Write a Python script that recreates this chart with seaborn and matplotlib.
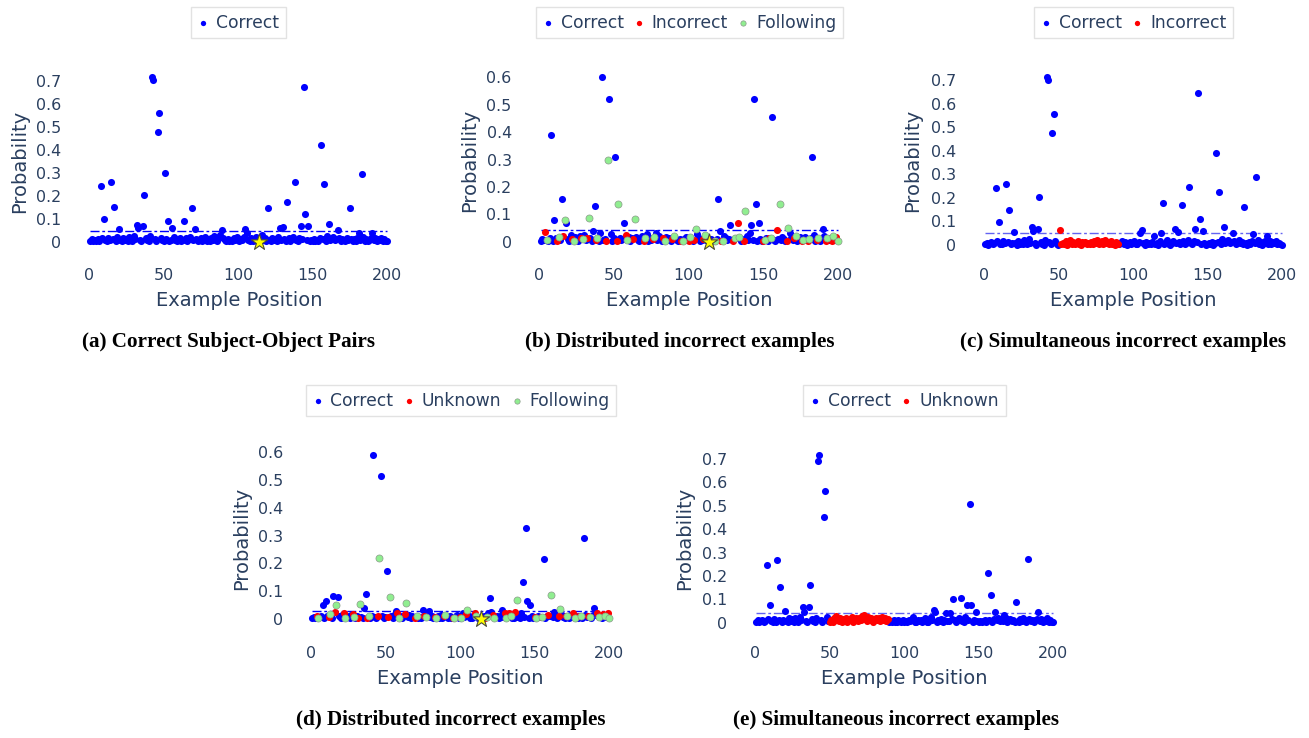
import numpy as np
import pandas as pd
import matplotlib
matplotlib.use("Agg")
import matplotlib.pyplot as plt
import seaborn as sns

# ---------------- data ----------------
positions = np.arange(1, 201)

a_values = [
 0.004, 0.010, 0.002, 0.006, 0.001, 0.012, 0.005, 0.242, 0.014, 0.097,
 0.008, 0.003, 0.016, 0.006, 0.260, 0.011, 0.150, 0.004, 0.020, 0.055,
 0.009, 0.002, 0.018, 0.007, 0.013, 0.003, 0.022, 0.010, 0.004, 0.026,
 0.012, 0.074, 0.060, 0.008, 0.003, 0.070, 0.203, 0.015, 0.006, 0.002,
 0.024, 0.715, 0.703, 0.011, 0.004, 0.476, 0.558, 0.018, 0.006, 0.001,
 0.299, 0.013, 0.088, 0.005, 0.009, 0.060, 0.020, 0.007, 0.002, 0.011,
 0.016, 0.004, 0.008, 0.090, 0.015, 0.003, 0.010, 0.019, 0.145, 0.006,
 0.055, 0.012, 0.002, 0.007, 0.017, 0.004, 0.010, 0.021, 0.005, 0.013,
 0.002, 0.016, 0.008, 0.025, 0.011, 0.003, 0.019, 0.030, 0.050, 0.014,
 0.006, 0.002, 0.012, 0.004, 0.009, 0.001, 0.015, 0.007, 0.020, 0.010,
 0.003, 0.013, 0.006, 0.022, 0.055, 0.040, 0.008, 0.002, 0.014, 0.005,
 0.011, 0.019, 0.003, 0.000, 0.010, 0.030, 0.006, 0.015, 0.004, 0.148,
 0.009, 0.002, 0.017, 0.008, 0.012, 0.003, 0.021, 0.060, 0.007, 0.065,
 0.013, 0.005, 0.174, 0.016, 0.004, 0.010, 0.020, 0.260, 0.008, 0.003,
 0.018, 0.070, 0.011, 0.674, 0.122, 0.006, 0.070, 0.002, 0.009, 0.004,
 0.012, 0.001, 0.007, 0.003, 0.015, 0.420, 0.010, 0.252, 0.005, 0.024,
 0.078, 0.008, 0.014, 0.019, 0.006, 0.011, 0.050, 0.016, 0.004, 0.013,
 0.009, 0.002, 0.017, 0.006, 0.148, 0.012, 0.003, 0.010, 0.005, 0.015,
 0.040, 0.007, 0.294, 0.022, 0.004, 0.012, 0.001, 0.009, 0.016, 0.040,
 0.006, 0.018, 0.003, 0.011, 0.008, 0.014, 0.002, 0.010, 0.005, 0.001,
]

# distributed layout: positions of incorrect/unknown and following examples (b, d)
dist_incorrect_pos = [4, 12, 16, 22, 28, 32, 38, 45, 52, 58, 63, 70, 76, 83, 89, 95, 100,
                      104, 110, 117, 122, 130, 133, 137, 150, 154, 159, 166, 171, 176, 180,
                      186, 192, 196, 199]
dist_following_pos = [5, 13, 17, 23, 29, 33, 39, 46, 53, 59, 64, 71, 77, 84, 90, 96, 101,
                      105, 111, 118, 123, 131, 134, 138, 151, 155, 161, 167, 172, 177, 181,
                      187, 193, 197, 200]

b_values = [
 0.003, 0.010, 0.006, 0.035, 0.008, 0.004, 0.012, 0.390, 0.002, 0.080,
 0.015, 0.004, 0.018, 0.006, 0.157, 0.020, 0.080, 0.070, 0.009, 0.003,
 0.025, 0.010, 0.002, 0.018, 0.007, 0.003, 0.020, 0.012, 0.010, 0.024,
 0.008, 0.015, 0.086, 0.012, 0.004, 0.040, 0.131, 0.006, 0.014, 0.002,
 0.030, 0.600, 0.005, 0.010, 0.004, 0.300, 0.520, 0.028, 0.003, 0.012,
 0.309, 0.002, 0.136, 0.015, 0.006, 0.010, 0.068, 0.025, 0.005, 0.018,
 0.003, 0.014, 0.011, 0.083, 0.016, 0.007, 0.002, 0.013, 0.020, 0.004,
 0.012, 0.028, 0.003, 0.015, 0.006, 0.009, 0.018, 0.030, 0.005, 0.022,
 0.010, 0.003, 0.013, 0.002, 0.016, 0.008, 0.012, 0.004, 0.009, 0.020,
 0.014, 0.006, 0.002, 0.011, 0.003, 0.004, 0.010, 0.017, 0.005, 0.001,
 0.018, 0.009, 0.003, 0.006, 0.048, 0.028, 0.012, 0.004, 0.008, 0.010,
 0.025, 0.006, 0.002, 0.004, 0.011, 0.003, 0.002, 0.003, 0.010, 0.157,
 0.040, 0.003, 0.004, 0.022, 0.015, 0.008, 0.010, 0.060, 0.006, 0.002,
 0.015, 0.012, 0.070, 0.017, 0.003, 0.009, 0.004, 0.113, 0.020, 0.006,
 0.030, 0.060, 0.008, 0.522, 0.138, 0.004, 0.068, 0.010, 0.003, 0.002,
 0.006, 0.012, 0.004, 0.015, 0.015, 0.456, 0.008, 0.003, 0.043, 0.011,
 0.137, 0.005, 0.018, 0.009, 0.004, 0.003, 0.050, 0.030, 0.012, 0.006,
 0.014, 0.020, 0.004, 0.010, 0.016, 0.002, 0.007, 0.018, 0.005, 0.003,
 0.009, 0.012, 0.310, 0.025, 0.004, 0.006, 0.015, 0.002, 0.010, 0.047,
 0.020, 0.003, 0.012, 0.006, 0.015, 0.004, 0.020, 0.008, 0.016, 0.003,
]

c_incorrect_pos = list(range(51, 91))
c_values = [
 0.004, 0.009, 0.002, 0.007, 0.012, 0.003, 0.010, 0.241, 0.015, 0.098,
 0.006, 0.003, 0.018, 0.008, 0.260, 0.012, 0.149, 0.005, 0.010, 0.056,
 0.008, 0.002, 0.016, 0.006, 0.012, 0.004, 0.020, 0.009, 0.003, 0.024,
 0.010, 0.075, 0.060, 0.007, 0.002, 0.070, 0.203, 0.014, 0.005, 0.002,
 0.022, 0.713, 0.702, 0.012, 0.004, 0.475, 0.557, 0.016, 0.006, 0.002,
 0.065, 0.003, 0.010, 0.006, 0.015, 0.002, 0.008, 0.020, 0.004, 0.012,
 0.003, 0.009, 0.016, 0.005, 0.002, 0.011, 0.007, 0.014, 0.004, 0.010,
 0.006, 0.013, 0.003, 0.018, 0.008, 0.020, 0.005, 0.012, 0.016, 0.004,
 0.020, 0.009, 0.014, 0.003, 0.017, 0.006, 0.010, 0.002, 0.012, 0.004,
 0.003, 0.010, 0.016, 0.006, 0.012, 0.002, 0.008, 0.014, 0.004, 0.010,
 0.015, 0.006, 0.003, 0.011, 0.050, 0.065, 0.008, 0.002, 0.012, 0.005,
 0.009, 0.003, 0.014, 0.040, 0.006, 0.010, 0.002, 0.016, 0.050, 0.180,
 0.004, 0.012, 0.020, 0.006, 0.002, 0.010, 0.015, 0.068, 0.008, 0.055,
 0.012, 0.004, 0.172, 0.018, 0.006, 0.010, 0.022, 0.248, 0.008, 0.003,
 0.016, 0.070, 0.012, 0.648, 0.110, 0.004, 0.060, 0.008, 0.002, 0.006,
 0.010, 0.003, 0.012, 0.002, 0.007, 0.393, 0.014, 0.226, 0.006, 0.025,
 0.077, 0.010, 0.016, 0.020, 0.008, 0.014, 0.050, 0.018, 0.005, 0.012,
 0.020, 0.008, 0.014, 0.003, 0.160, 0.010, 0.002, 0.012, 0.006, 0.015,
 0.045, 0.008, 0.289, 0.020, 0.004, 0.012, 0.002, 0.010, 0.016, 0.040,
 0.006, 0.018, 0.004, 0.012, 0.009, 0.015, 0.003, 0.010, 0.006, 0.002,
]

d_values = [
 0.002, 0.008, 0.004, 0.012, 0.003, 0.006, 0.010, 0.049, 0.003, 0.066,
 0.012, 0.006, 0.018, 0.004, 0.083, 0.025, 0.050, 0.078, 0.010, 0.005,
 0.015, 0.022, 0.004, 0.012, 0.006, 0.002, 0.014, 0.018, 0.008, 0.003,
 0.010, 0.004, 0.055, 0.006, 0.002, 0.038, 0.091, 0.002, 0.010, 0.004,
 0.012, 0.589, 0.006, 0.003, 0.012, 0.220, 0.515, 0.010, 0.002, 0.008,
 0.173, 0.006, 0.080, 0.012, 0.004, 0.015, 0.030, 0.020, 0.004, 0.010,
 0.003, 0.012, 0.018, 0.056, 0.008, 0.014, 0.004, 0.010, 0.006, 0.005,
 0.012, 0.002, 0.008, 0.004, 0.033, 0.010, 0.006, 0.015, 0.030, 0.006,
 0.012, 0.003, 0.008, 0.002, 0.010, 0.005, 0.014, 0.003, 0.012, 0.015,
 0.008, 0.004, 0.011, 0.002, 0.004, 0.003, 0.009, 0.014, 0.004, 0.006,
 0.004, 0.020, 0.006, 0.018, 0.033, 0.010, 0.004, 0.002, 0.012, 0.022,
 0.010, 0.005, 0.003, 0.006, 0.002, 0.012, 0.004, 0.006, 0.020, 0.076,
 0.025, 0.014, 0.004, 0.008, 0.012, 0.003, 0.010, 0.033, 0.006, 0.020,
 0.004, 0.012, 0.022, 0.010, 0.005, 0.003, 0.025, 0.068, 0.008, 0.004,
 0.022, 0.134, 0.006, 0.328, 0.066, 0.002, 0.050, 0.010, 0.004, 0.008,
 0.003, 0.012, 0.006, 0.006, 0.008, 0.217, 0.004, 0.010, 0.015, 0.012,
 0.087, 0.006, 0.025, 0.010, 0.004, 0.012, 0.035, 0.014, 0.006, 0.003,
 0.010, 0.012, 0.004, 0.015, 0.008, 0.022, 0.003, 0.010, 0.005, 0.012,
 0.010, 0.004, 0.293, 0.015, 0.006, 0.012, 0.008, 0.003, 0.014, 0.040,
 0.016, 0.020, 0.006, 0.010, 0.004, 0.018, 0.012, 0.006, 0.020, 0.004,
]

e_unknown_pos = list(range(50, 90))
e_values = [
 0.003, 0.010, 0.002, 0.006, 0.012, 0.004, 0.009, 0.245, 0.014, 0.076,
 0.007, 0.002, 0.016, 0.005, 0.267, 0.010, 0.154, 0.004, 0.012, 0.052,
 0.006, 0.002, 0.022, 0.008, 0.014, 0.003, 0.018, 0.010, 0.004, 0.026,
 0.012, 0.068, 0.045, 0.006, 0.002, 0.065, 0.161, 0.016, 0.007, 0.002,
 0.020, 0.690, 0.716, 0.012, 0.004, 0.450, 0.564, 0.025, 0.008, 0.002,
 0.010, 0.004, 0.022, 0.030, 0.012, 0.006, 0.018, 0.002, 0.014, 0.008,
 0.020, 0.005, 0.016, 0.010, 0.024, 0.003, 0.013, 0.019, 0.006, 0.022,
 0.012, 0.030, 0.035, 0.015, 0.008, 0.025, 0.011, 0.020, 0.005, 0.016,
 0.022, 0.010, 0.018, 0.006, 0.024, 0.013, 0.020, 0.008, 0.015, 0.004,
 0.008, 0.002, 0.012, 0.005, 0.003, 0.010, 0.006, 0.002, 0.011, 0.004,
 0.008, 0.003, 0.012, 0.006, 0.015, 0.025, 0.004, 0.002, 0.010, 0.006,
 0.012, 0.003, 0.008, 0.018, 0.005, 0.002, 0.014, 0.025, 0.010, 0.055,
 0.045, 0.004, 0.010, 0.006, 0.016, 0.002, 0.012, 0.040, 0.008, 0.006,
 0.040, 0.014, 0.101, 0.010, 0.004, 0.012, 0.020, 0.104, 0.006, 0.002,
 0.025, 0.075, 0.010, 0.507, 0.075, 0.004, 0.012, 0.045, 0.006, 0.003,
 0.008, 0.002, 0.006, 0.012, 0.004, 0.214, 0.010, 0.118, 0.005, 0.016,
 0.045, 0.012, 0.020, 0.008, 0.014, 0.006, 0.035, 0.018, 0.004, 0.010,
 0.016, 0.006, 0.012, 0.003, 0.087, 0.008, 0.002, 0.014, 0.006, 0.018,
 0.010, 0.004, 0.272, 0.016, 0.006, 0.012, 0.002, 0.010, 0.014, 0.045,
 0.008, 0.016, 0.004, 0.012, 0.006, 0.018, 0.003, 0.010, 0.005, 0.002,
]

# threshold (dash-dot) per panel
thresholds = {"a": 0.047, "b": 0.043, "c": 0.051, "d": 0.029, "e": 0.040}
# query example (star)
star_x = [114]
star_y = [0.0]

x_ticks = [0, 50, 100, 150, 200]
y_ticks_07 = [0, 0.1, 0.2, 0.3, 0.4, 0.5, 0.6, 0.7]
y_ticks_06 = [0, 0.1, 0.2, 0.3, 0.4, 0.5, 0.6]

captions = {
    "a": "(a) Correct Subject-Object Pairs",
    "b": "(b) Distributed incorrect examples",
    "c": "(c) Simultaneous incorrect examples",
    "d": "(d) Distributed incorrect examples",
    "e": "(e) Simultaneous incorrect examples",
}

# ---------------- style ----------------
sns.set_style("white")
plt.rcParams["font.family"] = ["DejaVu Sans"]
TXT = "#2a3f5f"
COLORS = {"Correct": "#0000ff", "Incorrect": "#ff0000", "Unknown": "#ff0000",
          "Following": "#90ee90"}

W, H = 1309, 738
fig = plt.figure(figsize=(W / 100, H / 100), dpi=100)
fig.patch.set_facecolor("white")


def make_df(values, cat_lists):
    cats = ["Correct"] * len(values)
    for name, plist in cat_lists:
        for p in plist:
            cats[p - 1] = name
    return pd.DataFrame({"Example Position": positions, "Probability": values, "Type": cats})


panels = [
    dict(key="a", df=make_df(a_values, []), order=["Correct"], yt=y_ticks_07,
         x0=89, x200=387, y0=241.7, yref=(0.7, 80.7), bottom=258, top=0.76,
         ylab=(20, 161), xlab=(239, 300), cap=(229, 341.5), leg=(238.5, 6.7),
         line="#0000ff", star=True),
    dict(key="b", df=make_df(b_values, [("Incorrect", dist_incorrect_pos),
                                        ("Following", dist_following_pos)]),
         order=["Correct", "Incorrect", "Following"], yt=y_ticks_06,
         x0=539.3, x200=837.7, y0=241.7, yref=(0.6, 77.3), bottom=258, top=0.65,
         ylab=(470, 160), xlab=(689, 300), cap=(680, 341.5), leg=(689.5, 6.7),
         line="#0000ff", star=True),
    dict(key="c", df=make_df(c_values, [("Incorrect", c_incorrect_pos)]),
         order=["Correct", "Incorrect"], yt=y_ticks_07,
         x0=984, x200=1281.7, y0=245, yref=(0.7, 80.3), bottom=258, top=0.76,
         ylab=(913, 160), xlab=(1133, 300), cap=(1123, 341.5), leg=(1133.7, 6.7),
         line="#6262f2", star=False),
    dict(key="d", df=make_df(d_values, [("Unknown", dist_incorrect_pos),
                                        ("Following", dist_following_pos)]),
         order=["Correct", "Unknown", "Following"], yt=y_ticks_06,
         x0=310.7, x200=609.3, y0=619, yref=(0.6, 452.3), bottom=636.7, top=0.65,
         ylab=(241.7, 538), xlab=(460.5, 678), cap=(451, 720), leg=(461, 384.7),
         line="#0000ff", star=True),
    dict(key="e", df=make_df(e_values, [("Unknown", e_unknown_pos)]),
         order=["Correct", "Unknown"], yt=y_ticks_07,
         x0=755, x200=1053.3, y0=622.7, yref=(0.7, 459), bottom=636.7, top=0.76,
         ylab=(685, 538), xlab=(904.5, 678), cap=(896, 720), leg=(904.5, 384.7),
         line="#6262f2", star=False),
]

XLIM = (-14, 214)

for P in panels:
    sx = (P["x200"] - P["x0"]) / 200.0
    sy = (P["y0"] - P["yref"][1]) / P["yref"][0]
    left = P["x0"] + XLIM[0] * sx
    right = P["x0"] + XLIM[1] * sx
    ylo = -(P["bottom"] - P["y0"]) / sy
    top_px = P["y0"] - P["top"] * sy
    ax = fig.add_axes([left / W, 1 - P["bottom"] / H, (right - left) / W,
                       (P["bottom"] - top_px) / H])
    ax.set_facecolor("white")
    df = P["df"]

    # threshold line
    ax.hlines(thresholds[P["key"]], df["Example Position"].min(), df["Example Position"].max(),
              colors=P["line"], linewidth=1.0, linestyles=(0, (6.5, 2.0, 2.0, 2.0)), zorder=1)

    for name in P["order"]:
        sub = df[df["Type"] == name]
        if name == "Following":
            sns.scatterplot(data=sub, x="Example Position", y="Probability", ax=ax,
                            color=COLORS[name], s=26, edgecolor="#8a9a8a", linewidth=0.5,
                            label=name, zorder=3)
        else:
            sns.scatterplot(data=sub, x="Example Position", y="Probability", ax=ax,
                            color=COLORS[name], s=26, linewidth=0, label=name, zorder=2)
    if P["star"]:
        ax.scatter(star_x, star_y, marker="*", s=150, color="#ffff00",
                   edgecolor="#4a4a3a", linewidth=0.8, zorder=5)

    ax.set_xlim(XLIM)
    ax.set_ylim(ylo, P["top"])
    ax.set_xticks(x_ticks)
    ax.set_xticklabels([str(t) for t in x_ticks])
    ax.set_yticks(P["yt"])
    ax.set_yticklabels(["0" if t == 0 else f"{t:.1f}" for t in P["yt"]])
    for sp in ax.spines.values():
        sp.set_visible(False)
    ax.tick_params(axis="both", which="major", length=3, width=0.8, color="#d5d5d5",
                   labelcolor=TXT, labelsize=11.4, direction="out")
    ax.tick_params(axis="y", pad=1.8)
    ax.tick_params(axis="x", pad=4.0)
    ax.grid(False)

    ax.set_xlabel("Example Position", fontsize=14, color=TXT, va="center", ha="center")
    ax.xaxis.set_label_coords(P["xlab"][0] / W, 1 - P["xlab"][1] / H, transform=fig.transFigure)
    ax.set_ylabel("Probability", fontsize=14, color=TXT, va="center", ha="center")
    ax.yaxis.set_label_coords(P["ylab"][0] / W, 1 - P["ylab"][1] / H, transform=fig.transFigure)

    leg = ax.legend(loc="upper center", bbox_to_anchor=(P["leg"][0] / W, 1 - P["leg"][1] / H),
                    bbox_transform=fig.transFigure, ncol=len(P["order"]), frameon=True,
                    fancybox=False, edgecolor="#e2e2e2", framealpha=1, fontsize=12.3,
                    handlelength=0.6, handletextpad=0.45, columnspacing=0.6,
                    borderpad=0.4, markerscale=0.75, labelcolor=TXT, borderaxespad=0)
    leg.get_frame().set_linewidth(1.0)

    fig.text(P["cap"][0] / W, 1 - P["cap"][1] / H, captions[P["key"]],
             family=["Liberation Serif", "DejaVu Serif"], weight="bold", fontsize=15.2,
             ha="center", va="center", color="black")

fig.savefig("out.png", dpi=100, facecolor="white")
